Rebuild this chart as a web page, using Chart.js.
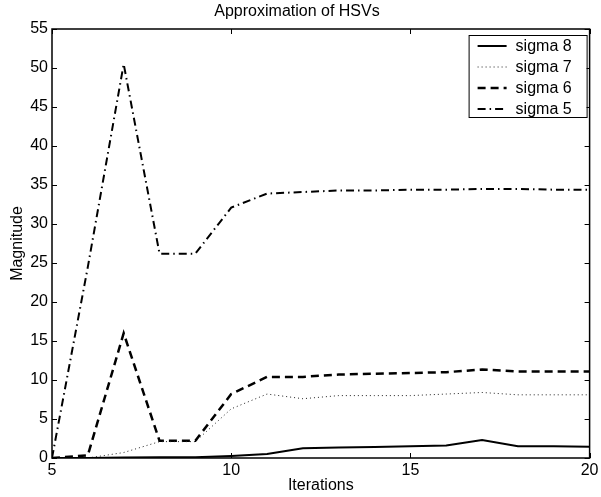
<!DOCTYPE html>
<html>
<head>
<meta charset="utf-8">
<script src="https://cdn.jsdelivr.net/npm/chart.js@4"></script>
<style>
  body { margin: 0; background: #fff; }
  #wrap { width: 601px; height: 497px; }
</style>
</head>
<body>
<div id="wrap"><canvas id="chart" width="601" height="497"></canvas></div>
<script>
// --- DATA ---
const iterations = [5, 6, 7, 8, 9, 10, 11, 12, 13, 14, 15, 16, 17, 18, 19, 20];
const sigma8 = [0, 0, 0.05, 0.1, 0.1, 0.25, 0.5, 1.25, 1.35, 1.4, 1.5, 1.6, 2.3, 1.5, 1.5, 1.45];
const sigma7 = [0, 0, 0.7, 2.1, 2.1, 6.3, 8.2, 7.6, 8.0, 8.0, 8.0, 8.2, 8.4, 8.1, 8.1, 8.1];
const sigma6 = [0, 0.35, 16.0, 2.2, 2.2, 8.2, 10.4, 10.4, 10.7, 10.8, 10.9, 11.0, 11.35, 11.1, 11.1, 11.1];
const sigma5 = [0, 24.5, 50.5, 26.2, 26.2, 32.1, 33.9, 34.1, 34.3, 34.3, 34.4, 34.4, 34.5, 34.5, 34.4, 34.4];
const xTicks = [5, 10, 15, 20];
const yTicks = [0, 5, 10, 15, 20, 25, 30, 35, 40, 45, 50, 55];

const FONT = '"Liberation Sans", Arial, Helvetica, sans-serif';
const FSIZE = 16;

const toPoints = (vals) => vals.map((v, i) => ({ x: iterations[i], y: v }));

// Frame + inward tick marks (MATLAB style)
const framePlugin = {
    id: 'frame',
    afterDatasetsDraw(chart) {
        const { ctx, chartArea: a, scales } = chart;
        const len = 5;
        ctx.save();
        ctx.strokeStyle = '#000';
        ctx.lineWidth = 1.5;
        ctx.strokeRect(a.left, a.top, a.right - a.left, a.bottom - a.top);
        ctx.lineWidth = 1;
        ctx.beginPath();
        yTicks.forEach(v => {
            const y = Math.round(scales.y.getPixelForValue(v)) + 0.5;
            ctx.moveTo(a.left, y); ctx.lineTo(a.left + len, y);
            ctx.moveTo(a.right, y); ctx.lineTo(a.right - len, y);
        });
        xTicks.forEach(v => {
            const x = Math.round(scales.x.getPixelForValue(v)) + 0.5;
            ctx.moveTo(x, a.bottom); ctx.lineTo(x, a.bottom - len);
            ctx.moveTo(x, a.top); ctx.lineTo(x, a.top + len);
        });
        ctx.stroke();
        ctx.restore();
    }
};

// Boxed legend in the top right corner
const legendPlugin = {
    id: 'boxLegend',
    afterDraw(chart) {
        const { ctx, chartArea: a } = chart;
        const w = 118, h = 82;
        const x0 = a.right - 3 - w, y0 = a.top + 6;
        ctx.save();
        ctx.fillStyle = '#fff';
        ctx.fillRect(x0, y0, w, h);
        ctx.strokeStyle = '#000';
        ctx.lineWidth = 1;
        ctx.strokeRect(x0 + 0.5, y0 + 0.5, w, h);
        ctx.font = FSIZE + 'px ' + FONT;
        ctx.textBaseline = 'middle';
        ctx.textAlign = 'left';
        chart.data.datasets.forEach((ds, i) => {
            const y = y0 + 11 + i * 21;
            ctx.beginPath();
            ctx.setLineDash(ds.borderDash || []);
            ctx.lineWidth = ds.borderWidth;
            ctx.strokeStyle = ds.borderColor;
            ctx.moveTo(x0 + 9, y);
            ctx.lineTo(x0 + 38, y);
            ctx.stroke();
            ctx.setLineDash([]);
            ctx.fillStyle = '#000';
            ctx.fillText(ds.label, x0 + 47, y + 1);
        });
        ctx.restore();
    }
};

new Chart(document.getElementById('chart'), {
    type: 'line',
    data: {
        datasets: [
            { label: 'sigma 8', data: toPoints(sigma8), borderColor: '#000', borderWidth: 2, borderDash: [] },
            { label: 'sigma 7', data: toPoints(sigma7), borderColor: '#222', borderWidth: 1, borderDash: [1, 3] },
            { label: 'sigma 6', data: toPoints(sigma6), borderColor: '#000', borderWidth: 2.5, borderDash: [8, 5] },
            { label: 'sigma 5', data: toPoints(sigma5), borderColor: '#000', borderWidth: 2, borderDash: [8, 4, 1.5, 4] }
        ]
    },
    options: {
        responsive: false,
        animation: false,
        devicePixelRatio: 1,
        layout: { padding: { left: 0, right: 7, top: 0, bottom: 0 } },
        elements: {
            point: { radius: 0 },
            line: { tension: 0, fill: false, borderCapStyle: 'butt' }
        },
        plugins: {
            legend: { display: false },
            tooltip: { enabled: false },
            title: {
                display: true,
                text: 'Approximation of HSVs',
                color: '#000',
                font: { family: FONT, size: FSIZE, weight: 'normal', lineHeight: 1.2 },
                padding: { top: 2.4, bottom: 7.4 }
            }
        },
        scales: {
            x: {
                type: 'linear',
                min: 5,
                max: 20,
                afterFit: (s) => { s.height = 39; },
                afterBuildTicks: (s) => { s.ticks = xTicks.map(v => ({ value: v })); },
                grid: { display: false, drawTicks: false },
                border: { display: false },
                ticks: { color: '#000', font: { family: FONT, size: FSIZE }, padding: 2.5, maxRotation: 0 },
                title: {
                    display: true, text: 'Iterations', color: '#000',
                    font: { family: FONT, size: FSIZE }, padding: { top: 0, bottom: 1.5 }
                }
            },
            y: {
                min: 0,
                max: 55,
                afterFit: (s) => { s.width = 52; },
                afterBuildTicks: (s) => { s.ticks = yTicks.map(v => ({ value: v })); },
                grid: { display: false, drawTicks: false },
                border: { display: false },
                ticks: { color: '#000', font: { family: FONT, size: FSIZE }, padding: 4 },
                title: {
                    display: true, text: 'Magnitude', color: '#000',
                    font: { family: FONT, size: FSIZE }, padding: { top: 8.4, bottom: 0 }
                }
            }
        }
    },
    plugins: [framePlugin, legendPlugin]
});
</script>
</body>
</html>
